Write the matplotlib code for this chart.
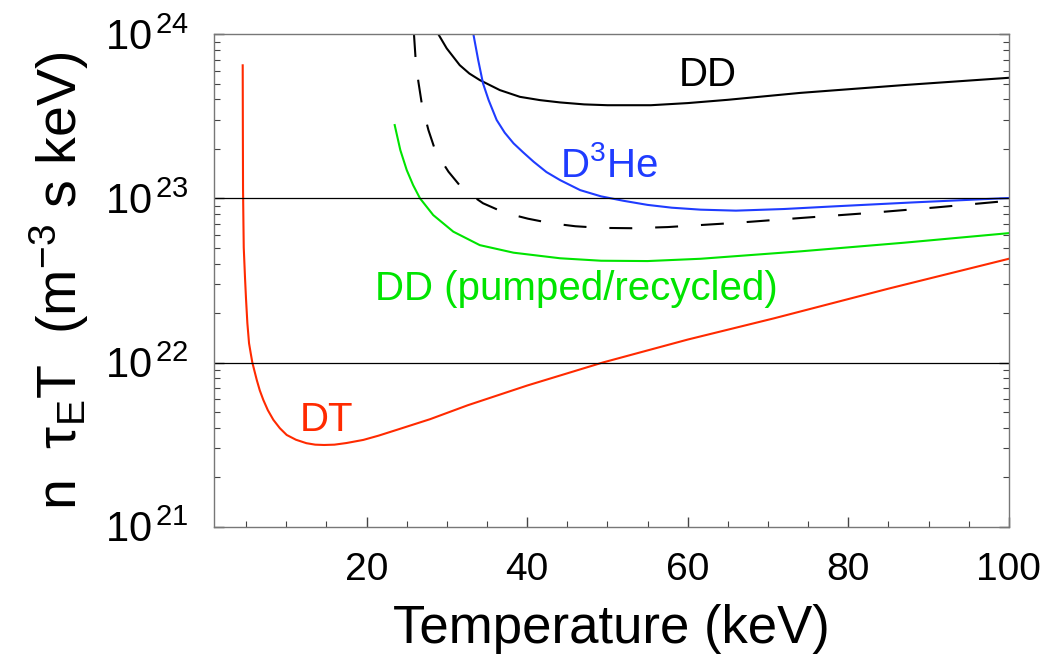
import numpy as np
import matplotlib
matplotlib.use("Agg")
import matplotlib.pyplot as plt
from matplotlib.ticker import FixedLocator, LogLocator, NullFormatter

# curves: temperature (keV) and log10(n tau_E T)
dt_T = [4.57, 4.59, 4.61, 4.66, 4.70, 4.86, 4.98, 5.15, 5.36, 5.57, 5.77, 6.32, 6.7, 7.14,
        7.7, 8.39, 9.2, 10.05, 11.2, 12.5, 13.6, 14.7, 16.0, 17.5, 19.6, 21.5, 23.75, 27.9,
        32.6, 40.0, 49.4, 60.0, 70.8, 85.0, 100.0]
dt_log = [23.81, 23.40, 23.06, 22.85, 22.70, 22.513, 22.39, 22.24, 22.117, 22.056, 22.00, 21.894,
          21.83, 21.772, 21.71, 21.651, 21.60, 21.559, 21.53, 21.509, 21.50, 21.498, 21.50, 21.51,
          21.529, 21.555, 21.59, 21.655, 21.74, 21.86, 22.00, 22.14, 22.27, 22.45, 22.632]

dd_T = [28.93, 29.98, 31.6, 32.8, 34.1, 36.6, 39.1, 41.6, 44.1, 47.1, 50.0, 55.4,
        60.0, 65.0, 74.0, 87.0, 100.0]
dd_log = [24.0, 23.913, 23.811, 23.76, 23.72, 23.659, 23.618, 23.598, 23.584, 23.572, 23.567, 23.567,
          23.58, 23.60, 23.642, 23.69, 23.734]

dhe_T = [33.3, 33.9, 34.5, 35.2, 36.2, 37.2, 38.3, 39.5, 40.8, 42.4, 44.1, 46.6, 49.2, 52.0,
         55.0, 58.0, 61.6, 66.0, 72.0, 78.2, 88.0, 100.0]
dhe_log = [24.0, 23.842, 23.70, 23.598, 23.477, 23.40, 23.335, 23.28, 23.223, 23.16, 23.111, 23.05,
           23.012, 22.985, 22.96, 22.943, 22.931, 22.925, 22.935, 22.951, 22.975, 23.002]

ddc_T = [25.9, 26.1, 26.45, 26.9, 27.7, 28.6, 30.2, 32.0, 34.5, 37.2, 40.1, 43.0, 46.0,
         49.2, 53.0, 57.5, 65.8, 74.0, 82.4, 91.0, 100.0]
ddc_log = [24.0, 23.852, 23.71, 23.568, 23.416, 23.284, 23.162, 23.055, 22.97, 22.912, 22.876, 22.848,
           22.83, 22.82, 22.818, 22.825, 22.85, 22.88, 22.91, 22.945, 22.985]

ddp_T = [23.5, 24.2, 25.0, 25.8, 26.65, 28.3, 30.8, 34.1, 38.3, 44.1, 49.2, 55.0,
         61.6, 74.0, 87.0, 100.0]
ddp_log = [23.446, 23.294, 23.172, 23.08, 23.0, 22.898, 22.797, 22.715, 22.669, 22.635, 22.62, 22.618,
           22.632, 22.677, 22.73, 22.788]

x_ticks = [20, 40, 60, 80, 100]
y_ticks = [1e21, 1e22, 1e23, 1e24]
y_labels = [r"$10^{\,21}$", r"$10^{\,22}$", r"$10^{\,23}$", r"$10^{\,24}$"]

red = "#ff2a00"
blue = "#1f3cff"
green = "#00e400"

plt.rcParams["mathtext.fontset"] = "custom"
plt.rcParams["mathtext.rm"] = "Liberation Sans"
plt.rcParams["mathtext.it"] = "Liberation Sans:italic"
plt.rcParams["mathtext.bf"] = "Liberation Sans:bold"
plt.rcParams["font.family"] = ["Liberation Sans", "DejaVu Sans"]

fig = plt.figure(figsize=(10.57, 6.56), dpi=100)
ax = fig.add_axes([0.2025, 0.197, 0.752, 0.751])

ax.plot(dt_T, 10 ** np.array(dt_log), color=red, lw=1.5)
ax.plot(dd_T, 10 ** np.array(dd_log), color="black", lw=1.5)
ax.plot(dhe_T, 10 ** np.array(dhe_log), color=blue, lw=1.5)
ax.plot(ddc_T, 10 ** np.array(ddc_log), color="black", lw=1.5, dashes=(11, 11))
ax.plot(ddp_T, 10 ** np.array(ddp_log), color=green, lw=1.5)

ax.axhline(1e22, color="black", lw=0.9)
ax.axhline(1e23, color="black", lw=0.9)

ax.set_yscale("log")
ax.set_xlim(1, 100)
ax.set_ylim(1e21, 1e24)

for s in ax.spines.values():
    s.set_color("#777777")
    s.set_linewidth(1.0)

ax.xaxis.set_major_locator(FixedLocator(x_ticks))
ax.xaxis.set_minor_locator(FixedLocator(np.arange(5, 100, 5)))
ax.set_xticklabels([str(t) for t in x_ticks], fontsize=28)
ax.yaxis.set_major_locator(FixedLocator(y_ticks))
ax.yaxis.set_minor_locator(LogLocator(base=10, subs=np.arange(2, 10)))
ax.yaxis.set_minor_formatter(NullFormatter())
ax.set_yticklabels(y_labels, fontsize=30)

ax.tick_params(axis="both", which="both", direction="in", color="#444444", top=False, right=True)
ax.tick_params(axis="both", which="major", length=7, width=1)
ax.tick_params(axis="both", which="minor", length=4, width=0.8)
ax.tick_params(axis="x", which="major", pad=18)
ax.tick_params(axis="y", which="major", pad=18)

ax.text(62.5, 10 ** 23.75, "DD", color="black", fontsize=29, ha="center", va="center")
ax.text(44.1, 10 ** 23.13, r"D$^{3}$He", color=blue, fontsize=29, ha="left", va="baseline")
ax.text(21.05, 10 ** 22.381, "DD (pumped/recycled)", color=green, fontsize=29,
        ha="left", va="baseline")
ax.text(11.7, 10 ** 21.586, "DT", color=red, fontsize=29, ha="left", va="baseline")

ax.set_xlabel("Temperature (keV)", fontsize=38, labelpad=12)
ax.set_ylabel(r"n  $\mathrm{\tau}_{\mathrm{E}}$T  (m$^{-3}$ s keV)", fontsize=40, labelpad=10)

fig.savefig("out.png", dpi=100)
